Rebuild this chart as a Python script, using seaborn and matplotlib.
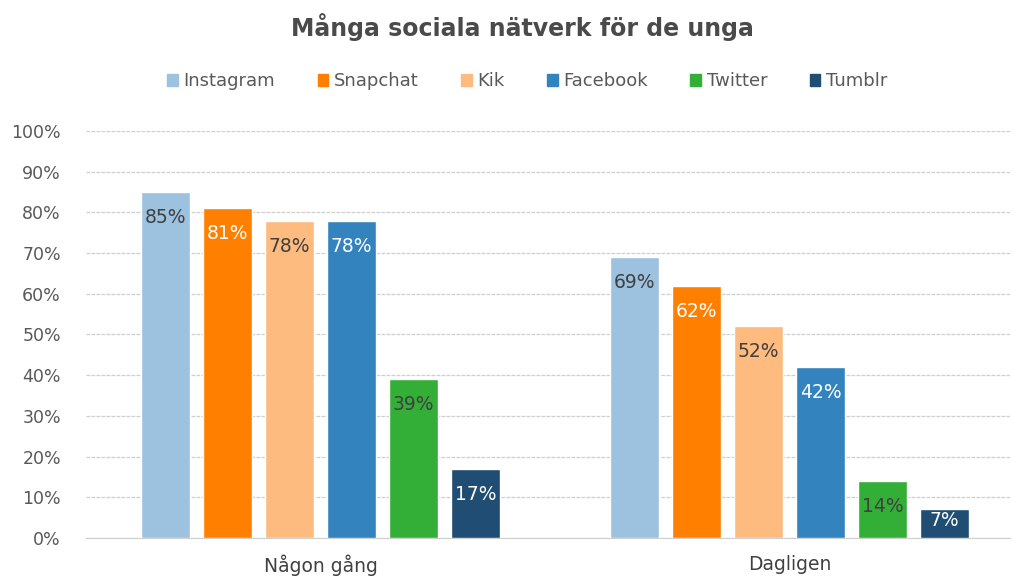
import pandas as pd
import numpy as np
import matplotlib
matplotlib.use('Agg')
import matplotlib.pyplot as plt
import seaborn as sns

# --------------------------
# DATA
# --------------------------
groups = ['Någon gång', 'Dagligen']
networks = ['Instagram', 'Snapchat', 'Kik', 'Facebook', 'Twitter', 'Tumblr']
nagon_gang = [85, 81, 78, 78, 39, 17]
dagligen = [69, 62, 52, 42, 14, 7]
colors = ['#9CC2E0', '#FF7F00', '#FDBB80', '#3283BE', '#33AF38', '#1F4D73']
label_colors = ['#404040', 'white', '#404040', 'white', '#404040', 'white']
yticks = [0, 10, 20, 30, 40, 50, 60, 70, 80, 90, 100]

df = pd.DataFrame({
    'Grupp': [groups[0]] * len(networks) + [groups[1]] * len(networks),
    'Nätverk': networks * 2,
    'Andel': nagon_gang + dagligen,
})

sns.set_style('white')
plt.rcParams['font.family'] = ['DejaVu Sans']

fig = plt.figure(figsize=(10.14, 5.76), dpi=100)
ax = fig.add_axes([0.0848, 0.066, 0.9112, 0.7066])

sns.barplot(data=df, x='Grupp', y='Andel', hue='Nätverk', order=groups,
            hue_order=networks, palette=colors, width=0.793, gap=0.21,
            saturation=1, legend=False, ax=ax, zorder=3)

# Etiketter inne i staplarna (små staplar: centrerad)
for cont, lc in zip(ax.containers, label_colors):
    for bar in cont:
        h = bar.get_height()
        ax.text(bar.get_x() + bar.get_width() / 2, max(h - 6.3, h / 2 + 0.8),
                f'{h:.0f}%', ha='center', va='center', color=lc,
                fontsize=13.5, zorder=4)

ax.set_ylim(0, 100)
ax.set_xlim(-0.5, 1.47)
ax.set_yticks(yticks)
ax.set_yticklabels([f'{t}%' for t in yticks])
ax.yaxis.grid(True, color='#cfcfcf', linewidth=0.9, linestyle=(0, (3, 1)), zorder=0)
ax.tick_params(axis='y', length=0, labelsize=12.5, labelcolor='#595959', pad=18)
ax.tick_params(axis='x', length=0, labelsize=13.5, labelcolor='#404040', pad=12)
ax.set_xlabel('')
ax.set_ylabel('')
for s in ['top', 'right', 'left']:
    ax.spines[s].set_visible(False)
ax.spines['bottom'].set_color('#cfcfcf')

handles = [plt.Rectangle((0, 0), 1, 1, color=c) for c in colors]
fig.legend(handles, networks, loc='center', bbox_to_anchor=(0.52, 0.859),
           ncol=6, frameon=False, fontsize=13, handlelength=0.6,
           handleheight=0.6, handletextpad=0.3, columnspacing=2.35,
           labelcolor='#595959')

fig.suptitle('Många sociala nätverk för de unga', x=0.515, y=0.977,
             fontsize=17, fontweight='bold', color='#4a4a4a')

plt.savefig('out.png', dpi=100)
plt.close(fig)
